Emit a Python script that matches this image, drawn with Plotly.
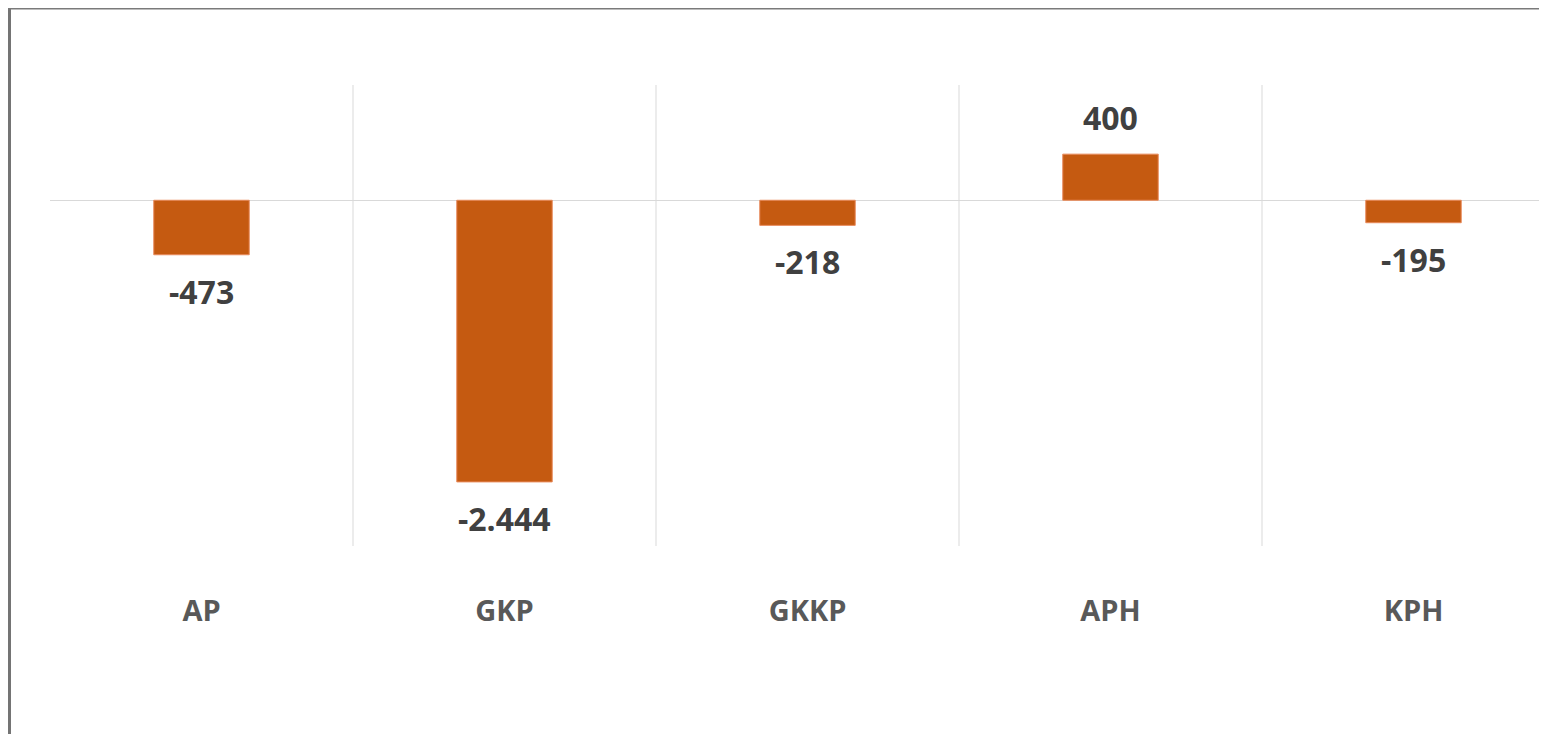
import plotly.graph_objects as go

categories = ["AP", "GKP", "GKKP", "APH", "KPH"]
values = [-473, -2444, -218, 400, -195]
labels = ["-473", "-2.444", "-218", "400", "-195"]

BAR = "#C55A11"
W, H = 1547, 726
ml, mr, mt, mb = 42, 0, 77, 188
cat_px = 303.0
plot_w = W - ml - mr
plot_h = H - mt - mb
x_lo = -0.5
x_hi = x_lo + plot_w / cat_px

fig = go.Figure()
fig.add_trace(go.Bar(
    x=list(range(len(categories))), y=values,
    marker=dict(color=BAR, line=dict(color="#E8895A", width=1)),
    width=0.315, hoverinfo="skip",
))

for i, (v, t) in enumerate(zip(values, labels)):
    fig.add_annotation(
        x=i, y=v, text=f"<b>{t}</b>", showarrow=False,
        yanchor="top" if v < 0 else "bottom",
        yshift=-13 if v < 0 else 13,
        font=dict(family="Open Sans", size=32, color="#404040"),
    )

shapes = []
for k in range(1, len(categories)):
    shapes.append(dict(type="line", xref="x", yref="y", x0=k - 0.5, x1=k - 0.5,
                       y0=-3000, y1=1000, line=dict(color="#D9D9D9", width=1), layer="below"))
# outer frame (left and top edges visible)
px_x = lambda p: (p - ml) / plot_w
px_y = lambda p: 1 - (p - mt) / plot_h
shapes.append(dict(type="line", xref="paper", yref="paper", x0=px_x(1.5), x1=px_x(1.5),
                   y0=px_y(0), y1=px_y(740), line=dict(color="#747474", width=3)))
shapes.append(dict(type="line", xref="paper", yref="paper", x0=px_x(0), x1=px_x(1560),
                   y0=px_y(0.5), y1=px_y(0.5), line=dict(color="#7A7A7A", width=2)))

fig.update_layout(
    width=W, height=H, margin=dict(l=ml, r=mr, t=mt, b=mb),
    paper_bgcolor="white", plot_bgcolor="white", showlegend=False,
    shapes=shapes,
    xaxis=dict(range=[x_lo, x_hi], tickvals=list(range(len(categories))), ticktext=[f"<b>{c}</b>" for c in categories],
               showgrid=False, zeroline=False, showline=False, ticks="",
               tickfont=dict(family="Open Sans", size=29, color="#595959"),
               ticklabelstandoff=45),
    yaxis=dict(range=[-3000, 1000], showgrid=False, zeroline=True, zerolinecolor="#D9D9D9",
               zerolinewidth=1, showticklabels=False, showline=False, ticks=""),
)
fig.write_html("out.html")
